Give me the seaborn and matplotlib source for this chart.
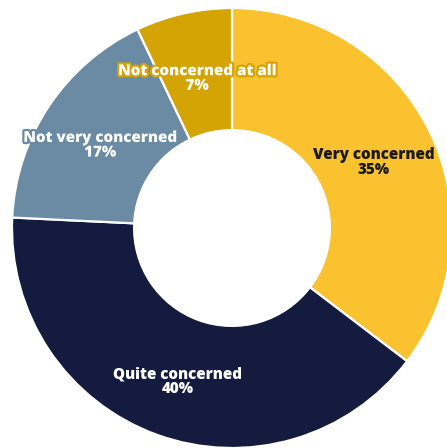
import matplotlib
matplotlib.use("Agg")
import matplotlib.pyplot as plt
import matplotlib.patheffects as pe
import seaborn as sns

# Survey responses: level of concern
categories = ["Very concerned", "Quite concerned", "Not very concerned", "Not concerned at all"]
shares = [35, 40, 17, 7]
colors = ["#F9C22E", "#141B3E", "#6A8BA3", "#D4A404"]
text_colors = ["#1A1A1A", "white", "white", "white"]
outline = [False, False, True, True]

sns.set_theme(style="white")
plt.rcParams["font.family"] = ["Open Sans", "DejaVu Sans"]

W, H = 447, 448
fig = plt.figure(figsize=(W / 100, H / 100), dpi=100)
ax = fig.add_axes([0, 0, 1, 1])

wedges, _, autotexts = ax.pie(
    shares,
    colors=colors,
    startangle=90,
    counterclock=False,
    radius=1.0,
    autopct=lambda p: "",
    pctdistance=0.72,
    wedgeprops=dict(width=0.555, edgecolor="white", linewidth=1.6,
                    joinstyle="round"),
)

# ring geometry in pixels: center (232, 228), outer radius 220
cx, cy, r = 232, 228, 220

for txt, cat, val, col, tcol, ol in zip(autotexts, categories, shares, colors,
                                        text_colors, outline):
    txt.set_text(f"{cat}\n{val}%")
    txt.set_color(tcol)
    txt.set_fontsize(10.9)
    txt.set_fontweight("heavy")
    txt.set_linespacing(0.88)
    txt.set_ha("center")
    txt.set_va("center")
    x, y = txt.get_position()
    txt.set_position((x, y - 5 / r))
    if ol:
        txt.set_path_effects([pe.withStroke(linewidth=3.2, foreground=col)])

ax.set_xlim(-cx / r, (W - cx) / r)
ax.set_ylim(-(H - cy) / r, cy / r)
ax.set_aspect("auto")
ax.axis("off")

fig.savefig("out.png", dpi=100, facecolor="white")
